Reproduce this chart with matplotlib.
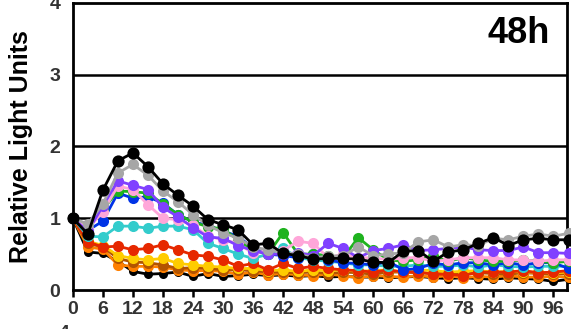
import matplotlib
matplotlib.use("Agg")
import matplotlib.pyplot as plt
import numpy as np

plt.rcParams['font.family'] = ['Liberation Sans', 'DejaVu Sans']

# time points (h)
hours = list(range(0, 100, 3))

black_low = [1.0, 0.53, 0.51, 0.40, 0.26, 0.22, 0.23, 0.25, 0.19, 0.23, 0.19, 0.20, 0.22, 0.20, 0.21, 0.19, 0.20,
             0.18, 0.19, 0.18, 0.18, 0.17, 0.18, 0.19, 0.17, 0.16, 0.17, 0.16, 0.15, 0.17, 0.16, 0.15, 0.12, 0.15]
orange = [1.0, 0.60, 0.57, 0.35, 0.33, 0.33, 0.32, 0.28, 0.27, 0.27, 0.26, 0.22, 0.25, 0.21, 0.23, 0.21, 0.20,
          0.22, 0.20, 0.17, 0.20, 0.19, 0.18, 0.20, 0.18, 0.20, 0.17, 0.19, 0.18, 0.20, 0.18, 0.18, 0.19, 0.18]
brown = [1.0, 0.65, 0.60, 0.44, 0.39, 0.38, 0.35, 0.30, 0.31, 0.30, 0.28, 0.28, 0.27, 0.25, 0.25, 0.24, 0.25,
         0.23, 0.25, 0.24, 0.22, 0.25, 0.25, 0.24, 0.23, 0.24, 0.22, 0.24, 0.23, 0.22, 0.24, 0.23, 0.22, 0.23]
yellow = [1.0, 0.68, 0.62, 0.48, 0.44, 0.42, 0.44, 0.37, 0.35, 0.33, 0.32, 0.30, 0.30, 0.27, 0.28, 0.26, 0.28,
          0.27, 0.28, 0.26, 0.27, 0.28, 0.25, 0.28, 0.27, 0.25, 0.26, 0.27, 0.25, 0.26, 0.25, 0.25, 0.24, 0.25]
red = [1.0, 0.67, 0.60, 0.61, 0.56, 0.58, 0.63, 0.56, 0.49, 0.47, 0.42, 0.33, 0.37, 0.28, 0.37, 0.30, 0.33,
       0.30, 0.28, 0.27, 0.25, 0.28, 0.25, 0.25, 0.22, 0.22, 0.20, 0.25, 0.25, 0.25, 0.27, 0.24, 0.25, 0.27]
cyan = [1.0, 0.75, 0.74, 0.89, 0.89, 0.86, 0.89, 0.89, 0.84, 0.65, 0.58, 0.50, 0.44, 0.50, 0.58, 0.45, 0.42,
        0.40, 0.38, 0.35, 0.35, 0.33, 0.33, 0.35, 0.33, 0.33, 0.35, 0.32, 0.35, 0.33, 0.32, 0.33, 0.33, 0.33]
blue = [1.0, 0.83, 0.96, 1.35, 1.28, 1.30, 1.21, 1.05, 0.95, 0.90, 0.82, 0.75, 0.58, 0.50, 0.48, 0.45, 0.50,
        0.42, 0.38, 0.37, 0.35, 0.40, 0.28, 0.30, 0.37, 0.35, 0.38, 0.38, 0.35, 0.38, 0.35, 0.38, 0.38, 0.30]
green = [1.0, 0.85, 1.12, 1.38, 1.37, 1.35, 1.20, 1.05, 0.95, 0.88, 0.85, 0.70, 0.55, 0.50, 0.80, 0.50, 0.50,
         0.48, 0.45, 0.73, 0.56, 0.42, 0.40, 0.42, 0.47, 0.40, 0.45, 0.42, 0.40, 0.40, 0.42, 0.40, 0.38, 0.40]
pink = [1.0, 0.85, 1.09, 1.45, 1.40, 1.19, 1.00, 0.98, 0.90, 0.75, 0.70, 0.65, 0.51, 0.55, 0.55, 0.68, 0.65,
        0.45, 0.50, 0.45, 0.45, 0.42, 0.45, 0.45, 0.40, 0.42, 0.45, 0.45, 0.45, 0.42, 0.42, 0.40, 0.42, 0.42]
purple = [1.0, 0.82, 1.17, 1.52, 1.46, 1.40, 1.15, 1.02, 0.87, 0.74, 0.72, 0.62, 0.55, 0.50, 0.50, 0.52, 0.48,
          0.65, 0.58, 0.45, 0.55, 0.58, 0.63, 0.55, 0.56, 0.58, 0.60, 0.56, 0.55, 0.55, 0.60, 0.52, 0.52, 0.51]
gray = [1.0, 0.92, 1.20, 1.63, 1.75, 1.60, 1.38, 1.23, 1.05, 0.90, 0.80, 0.72, 0.60, 0.56, 0.52, 0.50, 0.45,
        0.47, 0.48, 0.60, 0.48, 0.50, 0.52, 0.67, 0.70, 0.60, 0.63, 0.62, 0.72, 0.70, 0.75, 0.78, 0.75, 0.79]
black_top = [1.0, 0.78, 1.39, 1.80, 1.91, 1.72, 1.48, 1.32, 1.17, 0.98, 0.91, 0.84, 0.63, 0.65, 0.51, 0.48, 0.43,
             0.44, 0.44, 0.43, 0.39, 0.38, 0.54, 0.55, 0.40, 0.53, 0.56, 0.65, 0.73, 0.62, 0.70, 0.72, 0.70, 0.70]

# drawing order: bottom first
series = [
    (black_low, "#000000", 6.5),
    (orange, "#ff8000", 8.0),
    (brown, "#b35400", 8.0),
    (yellow, "#ffcc00", 8.0),
    (red, "#e62800", 8.0),
    (cyan, "#33cccc", 8.0),
    (blue, "#0033e6", 8.0),
    (green, "#1fb31f", 8.0),
    (pink, "#ffa6d9", 8.0),
    (purple, "#8040ff", 8.0),
    (gray, "#a6a6a6", 8.0),
    (black_top, "#000000", 8.8),
]

fig = plt.figure(figsize=(5.71, 3.29), dpi=100)
ax = fig.add_axes([0.1275, 0.1185, 0.993 - 0.1275, 0.991 - 0.1185])

for vals, color, ms in series:
    ax.plot(hours, vals, color=color, lw=2.0, marker='o', markersize=ms,
            markeredgewidth=0, clip_on=False, zorder=3)

# horizontal reference lines
for yv in [1, 2, 3]:
    ax.axhline(yv, color='black', lw=1.8, zorder=1)

ax.set_xlim(0, 98.7)
ax.set_ylim(0, 4)
ax.set_xticks(range(0, 97, 6))
ax.set_yticks([0, 1, 2, 3, 4])

for sp in ax.spines.values():
    sp.set_linewidth(2.0)

ax.tick_params(axis='x', length=5, width=1.8, direction='out', pad=3,
               labelsize=14, labelcolor='#333333')
ax.tick_params(axis='y', length=0, pad=9, labelsize=14, labelcolor='#333333')
for lbl in ax.get_xticklabels() + ax.get_yticklabels():
    lbl.set_fontweight('bold')

ax.set_ylabel("Relative Light Units", fontsize=18, fontweight='bold', labelpad=12)
ax.text(0.966, 0.895, "48h", transform=ax.transAxes, ha='right', va='center',
        fontsize=26, fontweight='bold')

# top of the next panel's tick label, cut off at the bottom edge
fig.text(64 / 571, 1 - 325 / 329, "4", ha='center', va='top', fontsize=14,
         fontweight='bold', color='#333333')

fig.savefig("out.png", dpi=100)
